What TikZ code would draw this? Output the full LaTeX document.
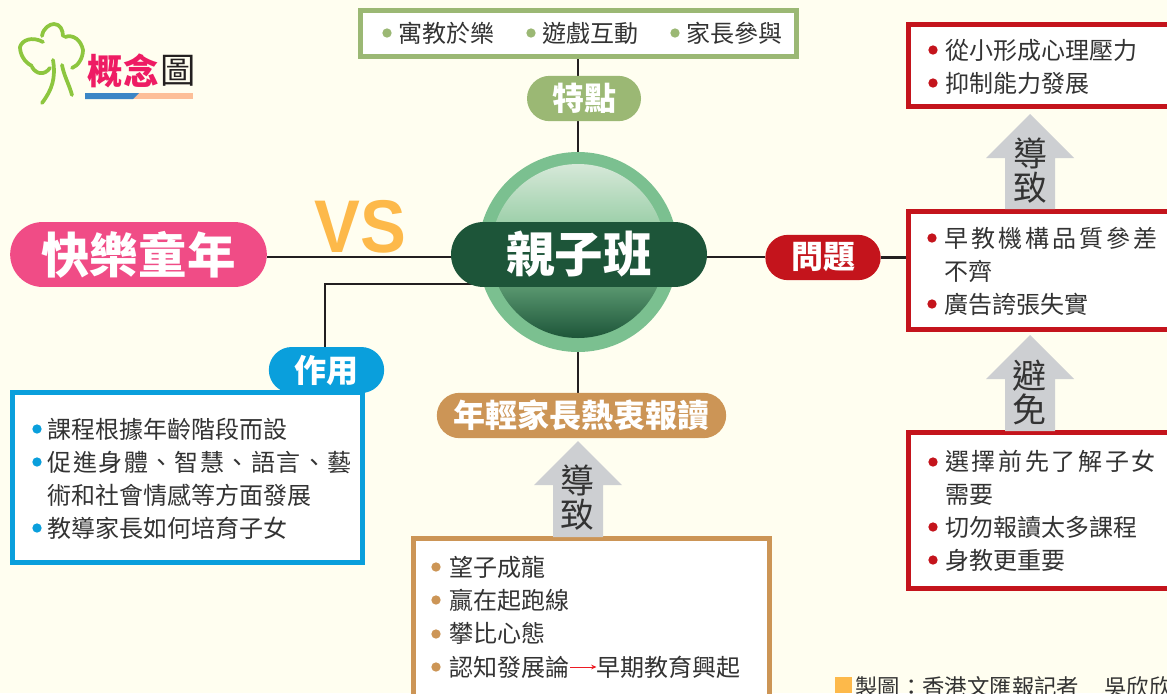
\documentclass[tikz,border=0pt]{standalone}
\usepackage{fontspec}
\setmainfont{Noto Sans CJK TC}
\newfontfamily\latinbold[BoldFont=Liberation Sans Bold]{Liberation Sans}
\usetikzlibrary{shapes.misc,backgrounds,arrows.meta,calc}
\definecolor{paper}{HTML}{FFFEF0}
\definecolor{ink}{HTML}{333333}
\definecolor{wirec}{HTML}{231F20}
\definecolor{leaf}{HTML}{9BB874}
\definecolor{ringg}{HTML}{7BC090}
\definecolor{balltop}{HTML}{D6E8D8}
\definecolor{ballmid}{HTML}{82C494}
\definecolor{hubg}{HTML}{1D5539}
\definecolor{pinkp}{HTML}{F04C86}
\definecolor{bluep}{HTML}{0A9FDC}
\definecolor{tanp}{HTML}{CC9556}
\definecolor{redp}{HTML}{C4141C}
\definecolor{greyarrow}{HTML}{CDCFD2}
\definecolor{vsorange}{HTML}{FDB94A}
\definecolor{logog}{HTML}{8DC63F}
\definecolor{logop}{HTML}{EE1C64}
\definecolor{logob}{HTML}{3B86C6}
\definecolor{logos}{HTML}{FDBF98}
\definecolor{tinyred}{HTML}{ED1C24}
\tikzset{
  pill/.style={rounded rectangle,draw=none,fill=#1,text=white,inner sep=0pt,font=\fontsize{24}{24}\selectfont\bfseries},
  listbox/.style={rectangle,draw=#1,fill=white,line width=3.75pt,inner sep=0pt,anchor=north west},
  listtext/.style={anchor=west,inner sep=0pt,align=left,text=ink,font=\fontsize{18}{24.8}\selectfont},
  wire/.style={draw=wirec,line width=1.9pt},
  arrowword/.style={inner sep=0pt,align=center,text=ink,font=\fontsize{25.5}{25.5}\selectfont},
  logobrush/.style={draw=logog,line width=2.8pt,line cap=round,line join=round}
}
\newcommand{\dotat}[3]{\fill[#1] (#2,#3) circle[radius=3.5pt];}
\newcommand{\blockarrow}[3]{\fill[greyarrow] (#1,#2) -- (#1+44,#2+44) -- (#1+25,#2+44) -- (#1+25,#3) -- (#1-25,#3) -- (#1-25,#2+44) -- (#1-44,#2+44) -- cycle;}
\begin{document}
\begin{tikzpicture}[x=0.75pt,y=-0.75pt]
\useasboundingbox (0,0) rectangle (1167,693);
\clip (0,0) rectangle (1167,693);
% ---- nodes
\node[listbox=leaf,minimum width=327pt,minimum height=34.5pt] (topbox) at (358,8) {};
\node[pill=leaf,minimum width=85.5pt,minimum height=34pt] (feat) at (584,98.5) {特點};
% central ball
\node[circle,fill=ringg,minimum size=150pt,inner sep=0pt] (ring) at (578,252) {};
\node[circle,minimum size=130.5pt,inner sep=0pt,top color=balltop,bottom color=hubg,middle color=ballmid] (ball) at (578,251) {};
\node[pill=hubg,minimum width=192pt,minimum height=48.7pt,font=\fontsize{36.4}{36.4}\selectfont\bfseries] (hub) at (579,254.5) {親子班};
\node[pill=pinkp,minimum width=192.5pt,minimum height=48.7pt,font=\fontsize{36.4}{36.4}\selectfont\bfseries] (fun) at (138.5,254.5) {快樂童年};
\node[text=vsorange,inner sep=0pt,font=\latinbold\fontsize{56}{56}\selectfont\bfseries] (vs) at (360,227) {\scalebox{.92}[1]{VS}};
\node[pill=redp,minimum width=86.5pt,minimum height=34pt] (prob) at (823,257.5) {問題};
\node[pill=tanp,minimum width=217pt,minimum height=34pt] (young) at (581.5,415.5) {年輕家長熱衷報讀};
% boxes
\node[listbox=bluep,minimum width=262.5pt,minimum height=127.5pt] (usebox) at (10,390) {};
\node[pill=bluep,minimum width=86.5pt,minimum height=34.5pt] (use) at (326.5,370) {作用};
\node[listbox=tanp,minimum width=267pt,minimum height=130pt] (causebox) at (411,536) {};
\node[listbox=redp,minimum width=220pt,minimum height=61.5pt] (rbox1) at (906,22) {};
\node[listbox=redp,minimum width=220pt,minimum height=88.5pt] (rbox2) at (906,209) {};
\node[listbox=redp,minimum width=220pt,minimum height=117pt] (rbox3) at (906,430) {};
% top list
\dotat{leaf}{387}{33}\dotat{leaf}{531}{33}\dotat{leaf}{675}{33}
\node[listtext] (t1) at (398,33) {寓教於樂};
\node[listtext] (t2) at (542,33) {遊戲互動};
\node[listtext] (t3) at (686,33) {家長參與};
% blue list
\dotat{bluep}{37}{429}\dotat{bluep}{37}{462}\dotat{bluep}{37}{528}
\node[listtext] (ul) at (47.5,478.5) {課程根據年齡階段而設\\{\addfontfeature{LetterSpace=6}促進身體、智慧、語言、藝}\\術和社會情感等方面發展\\教導家長如何培育子女};
% tan list
\dotat{tanp}{436}{567}\dotat{tanp}{436}{600}\dotat{tanp}{436}{634}\dotat{tanp}{436}{667}
\node[listtext] (cl) at (449.5,600) {望子成龍\\贏在起跑線\\攀比心態};
\node[listtext] (ca) at (449.5,667) {認知發展論};
\node[listtext] (cb) at (596.5,667) {早期教育興起};
% red lists
\dotat{redp}{933}{50}\dotat{redp}{933}{83}
\node[listtext] (r1) at (945,66.5) {從小形成心理壓力\\抑制能力發展};
\dotat{redp}{932}{238}\dotat{redp}{932}{304}
\node[listtext] (r2) at (944,271) {{\addfontfeature{LetterSpace=12.5}早教機構品質參差}\\不齊\\廣告誇張失實};
\dotat{redp}{933}{462}\dotat{redp}{933}{527}\dotat{redp}{933}{560}
\node[listtext] (r3) at (945,511) {{\addfontfeature{LetterSpace=11}選擇前先了解子女}\\需要\\切勿報讀太多課程\\身教更重要};
% block arrows
\blockarrow{578}{441}{537}
\blockarrow{1030}{114}{209}
\blockarrow{1030}{335}{431}
\node[arrowword] (w1) at (577,498) {導\\致};
\node[arrowword] (w2) at (1030,171) {導\\致};
\node[arrowword] (w3) at (1029,392) {避\\免};
% red small arrow
\draw[draw=tinyred,line width=.7pt,-{Stealth[length=4pt,width=3.5pt]}] (ca.east) -- (cb.west);
% logo
\draw[logobrush] (32,66) .. controls (24,62) and (20,54) .. (20,47) .. controls (22,40) and (32,36) .. (43,42);
\draw[logobrush] (42,36) .. controls (43,28) and (50,24) .. (54,24) .. controls (60,24) and (63,30) .. (63,36);
\draw[logobrush] (65,37) .. controls (73,34) and (81,40) .. (83,50) .. controls (83,58) and (78,66) .. (72,68);
\draw[logobrush] (32,67) .. controls (36,74) and (44,76) .. (50,68);
\draw[logobrush] (53,60) .. controls (56,78) and (52,90) .. (42,103);
\draw[logobrush] (62,65) .. controls (64,76) and (69,84) .. (72,95);
\node[inner sep=0pt,text=logop,font=\fontsize{26.5}{26.5}\selectfont\bfseries] (lg1) at (105,71) {概};
\node[inner sep=0pt,text=logop,font=\fontsize{26.5}{26.5}\selectfont\bfseries] (lg2) at (141,71) {念};
\node[inner sep=0pt,text=wirec,font=\fontsize{26.5}{26.5}\selectfont] (lg3) at (178,71) {圖};
\fill[logos] (85,93) rectangle (193,99);
\fill[logob] (85,93) -- (139,93) -- (133,99) -- (85,99) -- cycle;
% credit
\fill[vsorange] (835,677) rectangle (852,693);
\node[inner sep=0pt,anchor=west,text=ink,font=\fontsize{16.8}{16.8}\selectfont] (credit) at (855,686.5) {製圖：香港文匯報記者\hspace{19pt}吳欣欣};
% ---- background layer
\begin{scope}[on background layer]
\fill[paper] (0,0) rectangle (1167,693);
\draw[wire] (feat.south -| ring.north) -- (topbox.south -| ring.north);
\draw[wire] (feat.south -| ring.north) -- (ring.north);
\draw[wire] ([yshift=-2pt]fun.east) -- ([yshift=-2pt]hub.west);
\draw[wire] ([yshift=-2pt]hub.east) -- ([yshift=-2pt]hub.east -| prob.west);
\draw[wire] (prob.east) -- (prob.east -| rbox2.west);
\draw[wire] ([xshift=-1pt]use.north) |- ([xshift=40pt,yshift=-22.1pt]hub.west);
\draw[wire] (ring.south) -- (young.north -| ring.south);
\end{scope}
\end{tikzpicture}
\end{document}
